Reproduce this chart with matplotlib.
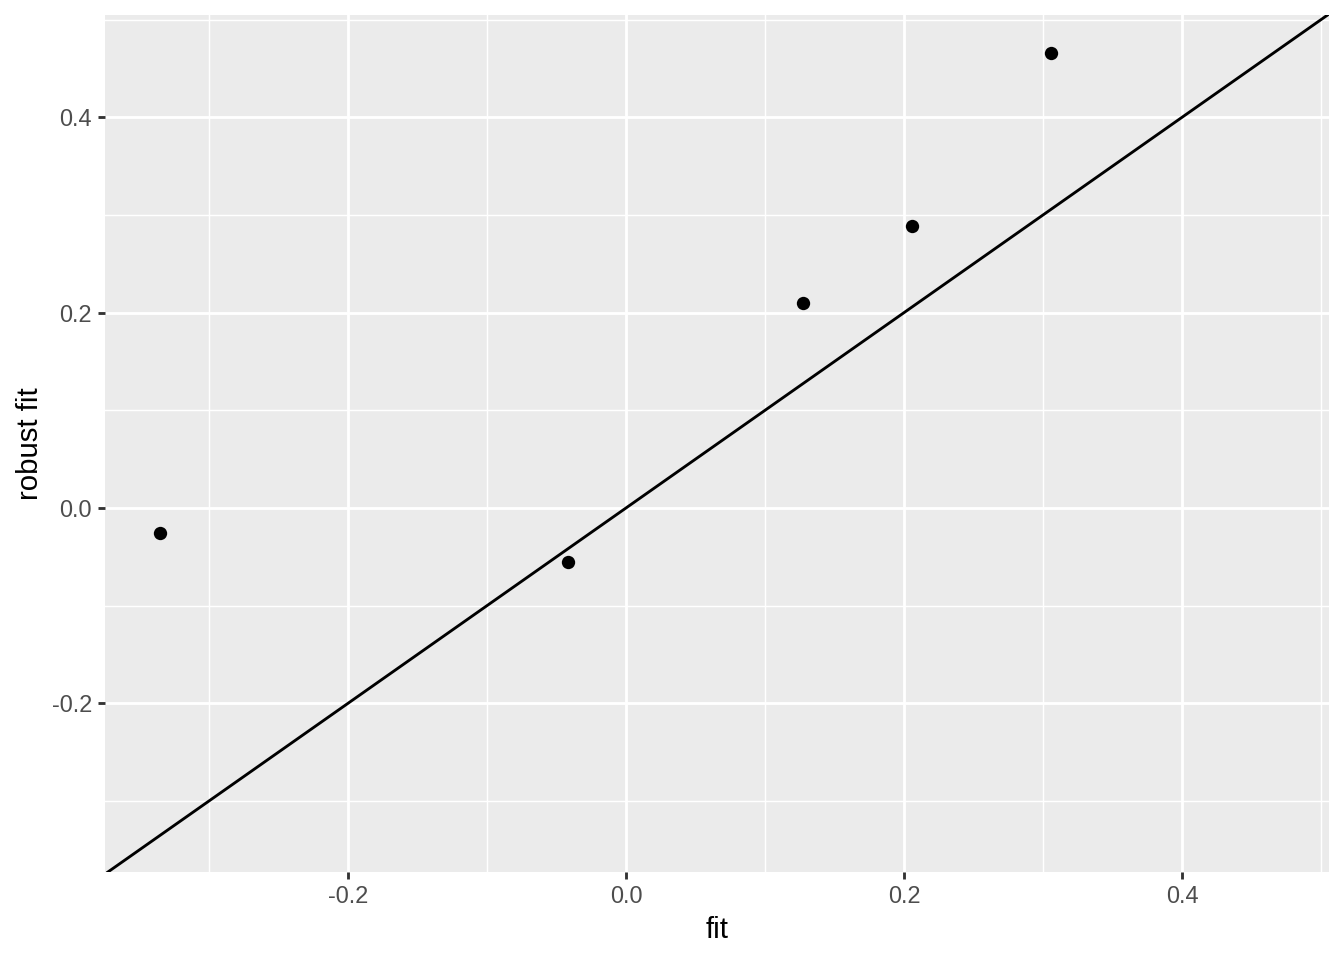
import matplotlib
matplotlib.use("Agg")
import matplotlib.pyplot as plt
import numpy as np

fit = [-0.3353, -0.0417, 0.1273, 0.2058, 0.3058]
robust_fit = [-0.0256, -0.0553, 0.2099, 0.2887, 0.4659]
x_ticks = [-0.2, 0.0, 0.2, 0.4]
y_ticks = [-0.2, 0.0, 0.2, 0.4]
x_minor = [-0.3, -0.1, 0.1, 0.3, 0.5]
y_minor = [-0.3, -0.1, 0.1, 0.3, 0.5]

plt.rcParams['font.family'] = ['Liberation Sans', 'DejaVu Sans']

W, H = 1344, 960
fig = plt.figure(figsize=(7, 5), dpi=192)
l, r, t, b = 105, 1329, 15, 872
ax = fig.add_axes([l / W, 1 - b / H, (r - l) / W, (b - t) / H])
ax.set_facecolor('#EBEBEB')
for s in ax.spines.values():
    s.set_visible(False)

xlim = (-0.3748, 0.5058)
ylim = (-0.3727, 0.5048)
ax.set_xlim(*xlim)
ax.set_ylim(*ylim)

for v in x_minor:
    ax.axvline(v, color='white', lw=0.53, zorder=0)
for v in y_minor:
    ax.axhline(v, color='white', lw=0.53, zorder=0)
for v in x_ticks:
    ax.axvline(v, color='white', lw=1.07, zorder=0)
for v in y_ticks:
    ax.axhline(v, color='white', lw=1.07, zorder=0)

ax.axline((0, 0), slope=1, color='black', lw=1.07, zorder=2)
ax.scatter(fit, robust_fit, s=5.0**2, color='black', zorder=3, linewidths=0)

ax.set_xticks(x_ticks)
ax.set_yticks(y_ticks)
ax.set_xticklabels([f"{v:.1f}" for v in x_ticks])
ax.set_yticklabels([f"{v:.1f}" for v in y_ticks])
ax.tick_params(axis='both', length=2.75, width=1.07, color='#333333',
               labelcolor='#4D4D4D', labelsize=8.8, pad=2.2)
ax.set_xlabel('fit', fontsize=11, color='black', labelpad=3)
ax.set_ylabel('robust fit', fontsize=11, color='black', labelpad=3)

fig.savefig('out.png', dpi=192)
